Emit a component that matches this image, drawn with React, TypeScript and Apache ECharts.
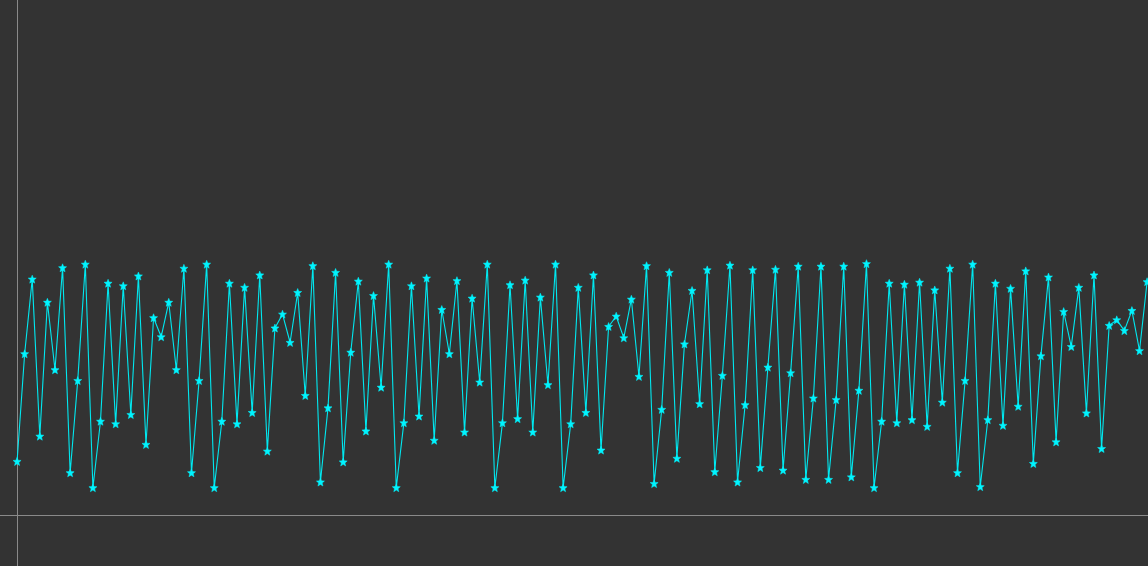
import React, { useEffect, useRef } from "react";
import * as echarts from "echarts";

const values: number[] = [
  10.4, 31.3, 45.8, 15.3, 41.3, 28.2, 48.0, 8.2, 26.1, 48.7,
  5.3, 18.2, 45.0, 17.7, 44.5, 19.5, 46.4, 13.7, 38.3, 34.6,
  41.3, 28.2, 47.9, 8.2, 26.1, 48.7, 5.3, 18.2, 45.0, 17.7,
  44.2, 19.9, 46.6, 12.4, 36.3, 39.0, 33.5, 43.2, 23.2, 48.4,
  6.4, 20.8, 47.1, 10.3, 31.6, 45.4, 16.3, 42.6, 24.8, 48.7,
  5.3, 17.9, 44.5, 19.2, 46.0, 14.5, 39.9, 31.3, 45.5, 16.1,
  42.1, 25.8, 48.7, 5.3, 17.9, 44.7, 18.7, 45.6, 16.1, 42.3,
  25.3, 48.7, 5.3, 17.7, 44.2, 19.9, 46.6, 12.6, 36.6, 38.6,
  34.4, 41.9, 26.9, 48.4, 6.1, 20.5, 47.1, 11.0, 33.2, 43.6,
  21.6, 47.6, 8.4, 27.1, 48.5, 6.4, 21.4, 47.6, 9.2, 28.7,
  47.7, 8.7, 27.6, 48.3, 6.9, 22.7, 48.3, 6.9, 22.4, 48.3,
  7.4, 24.2, 48.8, 5.3, 18.2, 45.0, 17.9, 44.8, 18.5, 45.2,
  17.2, 43.7, 21.9, 47.9, 8.2, 26.1, 48.7, 5.5, 18.5, 45.0,
  17.4, 44.0, 21.1, 47.4, 10.0, 30.9, 46.2, 14.2, 39.5, 32.7,
  44.2, 19.8, 46.6, 12.9, 36.8, 37.9, 35.8, 39.7, 31.9, 45.3,
];

const X_MIN = -2.25;
const X_MAX = 149.12;
const Y_MIN = -9.9;
const Y_MAX = 100;

const STAR =
  "path://M50,0 L63,33 L98,35 L71,58 L80,94 L50,75 L20,94 L29,58 L2,35 L37,33 Z";

export default function App() {
  const ref = useRef<HTMLDivElement>(null);
  useEffect(() => {
    if (!ref.current) return;
    const chart = echarts.init(ref.current, null, { renderer: "svg" });
    const axisCommon = {
      type: "value" as const,
      axisLine: { show: true, onZero: true, lineStyle: { color: "#8a8a8a", width: 1 } },
      axisTick: { show: false },
      axisLabel: { show: false },
      splitLine: { show: false },
    };
    chart.setOption({
      animation: false,
      backgroundColor: "#333",
      grid: { left: 0, right: 0, top: 0, bottom: 0 },
      xAxis: { ...axisCommon, min: X_MIN, max: X_MAX },
      yAxis: { ...axisCommon, min: Y_MIN, max: Y_MAX },
      series: [
        {
          type: "line",
          data: values.map((v, i) => [i, v]),
          symbol: STAR,
          symbolSize: 8,
          showSymbol: true,
          lineStyle: { color: "#00e8f0", width: 1.1 },
          itemStyle: { color: "#00f4ff", borderColor: "#00f4ff", borderWidth: 0.5 },
        },
      ],
    });
    return () => chart.dispose();
  }, []);
  return (
    <div
      ref={ref}
      style={{ position: "fixed", left: 0, top: 0, width: 1148, height: 566, background: "#333" }}
    />
  );
}
